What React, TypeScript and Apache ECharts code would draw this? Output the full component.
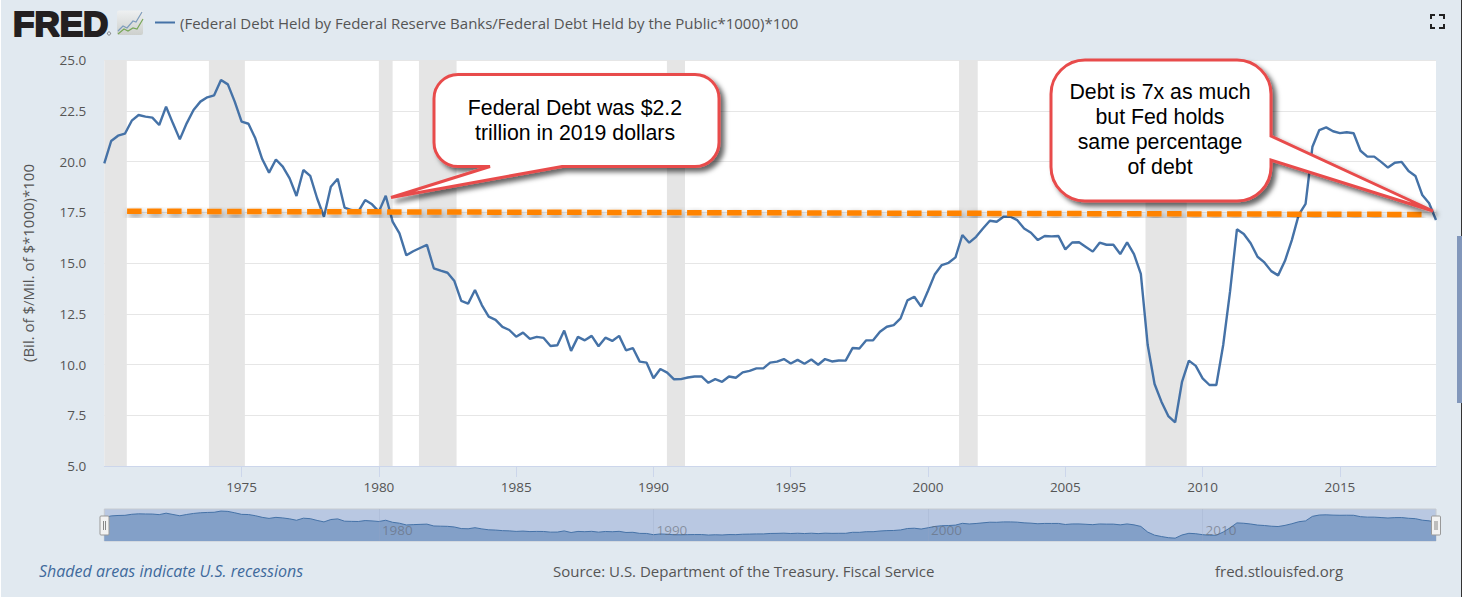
import React, { useEffect, useRef } from "react";
import * as echarts from "echarts";

const seriesName = "(Federal Debt Held by Federal Reserve Banks/Federal Debt Held by the Public*1000)*100";
const yAxisName = "(Bil. of $/Mil. of $*1000)*100";
const firstYear = 1970;
const values = [
  19.91, 21.01, 21.27, 21.37, 22.01, 22.29, 22.21, 22.16, 21.8, 22.7, 21.88, 21.09, 21.88, 22.54, 22.95, 23.16,
  23.26, 24.01, 23.8, 22.95, 21.96, 21.86, 21.14, 20.12, 19.45, 20.1, 19.75, 19.17, 18.3, 19.58, 19.29, 18.19,
  17.28, 18.76, 19.15, 17.73, 17.61, 17.53, 18.1, 17.89, 17.53, 18.31, 17.04, 16.46, 15.38, 15.58, 15.74, 15.89,
  14.74, 14.62, 14.52, 14.11, 13.13, 13.0, 13.67, 12.93, 12.36, 12.2, 11.85, 11.7, 11.37, 11.57, 11.26, 11.36,
  11.31, 10.91, 10.95, 11.67, 10.67, 11.36, 11.19, 11.41, 10.9, 11.32, 11.16, 11.41, 10.7, 10.81, 10.14, 10.09,
  9.32, 9.78, 9.6, 9.27, 9.28, 9.36, 9.41, 9.41, 9.1, 9.28, 9.15, 9.41, 9.35, 9.61, 9.69, 9.81,
  9.81, 10.09, 10.14, 10.27, 10.05, 10.23, 10.04, 10.25, 9.99, 10.27, 10.15, 10.2, 10.19, 10.81, 10.79, 11.19,
  11.19, 11.61, 11.86, 11.94, 12.27, 13.16, 13.34, 12.85, 13.63, 14.45, 14.9, 15.01, 15.28, 16.38, 16.0, 16.29,
  16.7, 17.08, 17.03, 17.28, 17.28, 17.11, 16.7, 16.49, 16.13, 16.33, 16.31, 16.33, 15.67, 16.01, 16.02, 15.79,
  15.56, 16.0, 15.9, 15.9, 15.44, 16.02, 15.44, 14.46, 10.96, 9.04, 8.17, 7.46, 7.15, 9.15, 10.19, 9.93,
  9.32, 8.99, 8.99, 10.96, 13.6, 16.66, 16.43, 15.97, 15.31, 15.03, 14.6, 14.39, 15.11, 16.13, 17.37, 17.91,
  20.73, 21.55, 21.68, 21.49, 21.4, 21.44, 21.39, 20.53, 20.24, 20.24, 19.98, 19.7, 19.94, 19.98, 19.53, 19.29,
  18.35, 17.94, 17.12,
];
const recessionStarts = [1970.0, 1973.81, 1980.0, 1981.46, 1990.49, 2001.13, 2007.92];
const recessionEnds = [1970.82, 1975.12, 1980.5, 1982.83, 1991.15, 2001.81, 2009.42];
const tickYears = [1975, 1980, 1985, 1990, 1995, 2000, 2005, 2010, 2015];
const navigatorYears = [1980, 1990, 2000, 2010];
const annotationYears = [1970.83, 2018.11];
const annotationValues = [17.55, 17.39];
const callout1Lines = "Federal Debt was $2.2\ntrillion in 2019 dollars";
const callout2Lines = "Debt is 7x as much\nbut Fed holds\nsame percentage\nof debt";
const footerLeft = "Shaded areas indicate U.S. recessions";
const footerMid = "Source: U.S. Department of the Treasury. Fiscal Service";
const footerRight = "fred.stlouisfed.org";

echarts.graphic.registerShape(
  "callout1",
  echarts.graphic.extendPath(
    "M458 74.5 H695 A24 24 0 0 1 719 98.5 V142.5 A24 24 0 0 1 695 166.5 H562 L391 197.5 L490 166.5 H458 A24 24 0 0 1 434 142.5 V98.5 A24 24 0 0 1 458 74.5 Z",
    {}
  )
);
echarts.graphic.registerShape(
  "callout2",
  echarts.graphic.extendPath(
    "M1085 60 H1237 A34 34 0 0 1 1271 94 V136 L1433 211 L1271 160 V167 A34 34 0 0 1 1237 201 H1085 A34 34 0 0 1 1051 167 V94 A34 34 0 0 1 1085 60 Z",
    {}
  )
);

const font = '"Open Sans", sans-serif';
const calloutStyle = {
  fill: "#ffffff",
  stroke: "#e84c4c",
  lineWidth: 3,
  shadowBlur: 5,
  shadowOffsetX: 4,
  shadowOffsetY: 4,
  shadowColor: "rgba(0,0,0,0.6)",
};

function bracket(points: number[][]) {
  return { type: "polyline", z: 100, shape: { points }, style: { stroke: "#222", lineWidth: 2, fill: "none" } };
}

function plainText(text: string, x: number, y: number, size: number, fill: string, align = "left", extra = "") {
  return {
    type: "text",
    z: 100,
    x,
    y,
    style: { text, fill, font: `${extra} ${size}px ${font}`, textAlign: align, textVerticalAlign: "middle" },
  };
}

function handle(x: number) {
  return [
    { type: "rect", z: 100, shape: { x, y: 516, width: 9, height: 19, r: 1 }, style: { fill: "#f2f2f2", stroke: "#999", lineWidth: 1 } },
    { type: "line", z: 101, shape: { x1: x + 3.5, y1: 521, x2: x + 3.5, y2: 530 }, style: { stroke: "#888", lineWidth: 1 } },
    { type: "line", z: 101, shape: { x1: x + 5.5, y1: 521, x2: x + 5.5, y2: 530 }, style: { stroke: "#888", lineWidth: 1 } },
  ];
}

export default function App() {
  const ref = useRef<HTMLDivElement>(null);
  useEffect(() => {
    const chart = echarts.init(ref.current!, undefined, { renderer: "svg" });
    const points = values.map((v, i) => [firstYear + i * 0.25, v]);
    chart.setOption({
      animation: false,
      backgroundColor: "#e1e9f0",
      textStyle: { fontFamily: font },
      legend: {
        data: [{ name: seriesName, icon: "rect" }],
        left: 155,
        top: 15,
        itemWidth: 20,
        itemHeight: 2,
        itemGap: 5,
        padding: 0,
        textStyle: { fontFamily: font, fontSize: 15, color: "#555" },
      },
      grid: [
        { left: 104.3, top: 60, width: 1331.7, height: 406, show: true, backgroundColor: "#fff", borderWidth: 0 },
        { left: 104.3, top: 509, width: 1331.7, height: 32, show: true, backgroundColor: "#b9c8e2", borderColor: "#c6cad0", borderWidth: 1 },
      ],
      xAxis: [
        {
          type: "value",
          gridIndex: 0,
          min: 1970,
          max: 2018.5,
          splitLine: { show: false },
          axisLine: { onZero: false, lineStyle: { color: "#ccd6eb", width: 1 } },
          axisTick: { length: 11, lineStyle: { color: "#ccd6eb" }, customValues: tickYears },
          axisLabel: { customValues: tickYears, color: "#555", fontSize: 13.5, margin: 14, fontFamily: font, formatter: (v: number) => String(v) },
        },
        {
          type: "value",
          gridIndex: 1,
          min: 1970,
          max: 2018.5,
          z: 5,
          splitLine: { show: false },
          axisLine: { show: false, onZero: false },
          axisTick: { inside: true, length: 32, lineStyle: { color: "rgba(150,165,195,0.25)" }, customValues: navigatorYears },
          axisLabel: {
            inside: true,
            customValues: navigatorYears,
            color: "rgba(100,105,115,0.6)",
            fontSize: 13.5,
            margin: 4,
            fontFamily: font,
            align: "left",
            padding: [0, 0, 0, 3],
            formatter: (v: number) => String(v),
          },
        },
      ],
      yAxis: [
        {
          type: "value",
          gridIndex: 0,
          min: 5,
          max: 25,
          interval: 2.5,
          name: yAxisName,
          nameLocation: "middle",
          nameGap: 69,
          nameRotate: 90,
          nameTextStyle: { color: "#555", fontSize: 15, fontFamily: font },
          axisLine: { show: false },
          axisTick: { show: false },
          splitLine: { lineStyle: { color: "#e6e6e6", width: 1 } },
          axisLabel: { color: "#555", fontSize: 13.5, margin: 18, padding: [0, 0, 4, 0], fontFamily: font, formatter: (v: number) => v.toFixed(1) },
        },
        { type: "value", gridIndex: 1, min: 5.4, max: 25.3, show: false, splitLine: { show: false } },
      ],
      series: [
        {
          name: "Recessions",
          type: "line",
          data: [],
          xAxisIndex: 0,
          yAxisIndex: 0,
          z: 1,
          markArea: {
            silent: true,
            itemStyle: { color: "#e5e5e5", borderWidth: 0 },
            data: recessionStarts.map((s, i) => [{ xAxis: s }, { xAxis: recessionEnds[i] }]),
          },
        },
        {
          name: seriesName,
          type: "line",
          data: points,
          xAxisIndex: 0,
          yAxisIndex: 0,
          showSymbol: false,
          symbol: "none",
          z: 3,
          itemStyle: { color: "#4572A7" },
          lineStyle: { color: "#4572A7", width: 2.4 },
        },
        {
          name: "Annotation",
          type: "line",
          data: annotationYears.map((y, i) => [y, annotationValues[i]]),
          xAxisIndex: 0,
          yAxisIndex: 0,
          showSymbol: false,
          symbol: "none",
          z: 4,
          lineStyle: {
            color: "#ff8300",
            width: 5.5,
            type: [14.5, 5.5],
            cap: "butt",
            shadowBlur: 6,
            shadowOffsetX: 1.5,
            shadowOffsetY: 3,
            shadowColor: "rgba(0,0,0,0.45)",
          },
        },
        {
          name: "Navigator",
          type: "line",
          data: points,
          xAxisIndex: 1,
          yAxisIndex: 1,
          showSymbol: false,
          symbol: "none",
          z: 2,
          lineStyle: { color: "#4572A7", width: 1 },
          areaStyle: { color: "#83a0c8", opacity: 1 },
        },
      ],
      graphic: [
        { type: "rect", z: 90, shape: { x: 0, y: 0, width: 1, height: 597 }, style: { fill: "#fff" } },
        { type: "rect", z: 90, shape: { x: 1461, y: 0, width: 1, height: 236 }, style: { fill: "#333" } },
        { type: "rect", z: 90, shape: { x: 1461, y: 403, width: 1, height: 194 }, style: { fill: "#333" } },
        { type: "rect", z: 90, shape: { x: 1457, y: 236, width: 5, height: 167 }, style: { fill: "#8297bb" } },
        {
          type: "text",
          z: 100,
          x: 13,
          y: 23,
          style: {
            text: "FRED",
            fill: "#231f20",
            stroke: "#231f20",
            lineWidth: 2,
            font: 'bold 35px "Liberation Sans", sans-serif',
            textAlign: "left",
            textVerticalAlign: "middle",
          },
        },
        { type: "circle", z: 100, shape: { cx: 109, cy: 33.5, r: 1.6 }, style: { fill: "none", stroke: "#666", lineWidth: 0.8 } },
        {
          type: "rect",
          z: 100,
          shape: { x: 117, y: 10.5, width: 26, height: 24.5, r: 2 },
          style: {
            fill: new echarts.graphic.LinearGradient(0, 0, 0, 1, [
              { offset: 0, color: "#eef0f1" },
              { offset: 1, color: "#cdd0cd" },
            ]),
          },
        },
        { type: "polyline", z: 101, shape: { points: [[118, 31], [123, 26], [127, 28], [133, 21], [136, 22], [142, 12]] }, style: { stroke: "#7d9cbc", lineWidth: 1.2, fill: "none" } },
        { type: "polyline", z: 101, shape: { points: [[118, 34], [124, 29], [128, 31], [133, 28], [137, 29], [143, 19]] }, style: { stroke: "#78a75a", lineWidth: 1.2, fill: "none" } },
        bracket([[1431, 19], [1431, 15], [1435, 15]]),
        bracket([[1439, 15], [1444, 15], [1444, 19]]),
        bracket([[1431, 24], [1431, 28], [1435, 28]]),
        bracket([[1439, 28], [1444, 28], [1444, 24]]),
        ...handle(100),
        ...handle(1431.5),
        { type: "callout1", z: 110, x: 0, y: 0, style: calloutStyle },
        { type: "callout2", z: 110, x: 0, y: 0, style: calloutStyle },
        {
          type: "text",
          z: 111,
          x: 575,
          y: 120.5,
          style: {
            text: callout1Lines,
            fill: "#000",
            font: '21.3px "Liberation Sans", sans-serif',
            lineHeight: 25,
            textAlign: "center",
            textVerticalAlign: "middle",
          },
        },
        {
          type: "text",
          z: 111,
          x: 1160,
          y: 129,
          style: {
            text: callout2Lines,
            fill: "#000",
            font: '21.3px "Liberation Sans", sans-serif',
            lineHeight: 25,
            textAlign: "center",
            textVerticalAlign: "middle",
          },
        },
        plainText(footerLeft, 39, 571, 16, "#3f6a9c", "left", "italic"),
        plainText(footerMid, 553, 571, 15, "#555", "left"),
        plainText(footerRight, 1215, 571, 15, "#555", "left"),
      ],
    });
    return () => chart.dispose();
  }, []);
  return <div ref={ref} style={{ position: "fixed", left: 0, top: 0, width: 1462, height: 597 }} />;
}
